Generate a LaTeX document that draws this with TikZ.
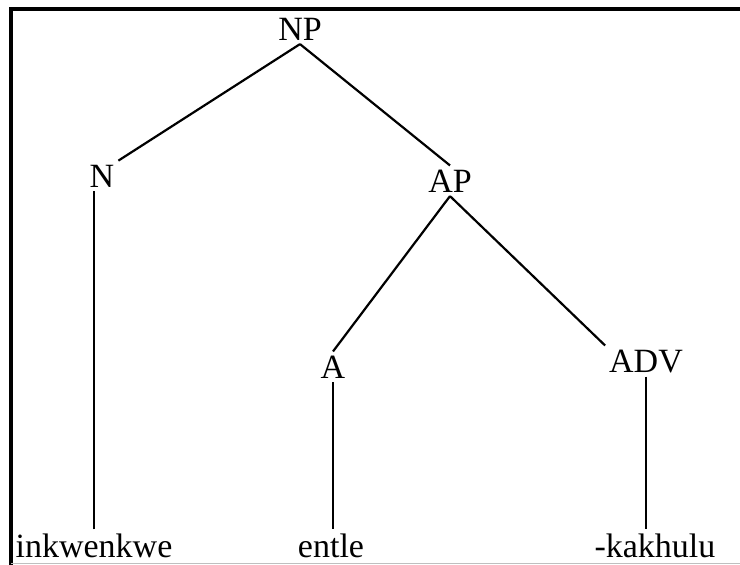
\documentclass[tikz,border=0pt]{standalone}
\usepackage{fontspec}
\setmainfont{Liberation Serif}
\usepackage{tikz}
\newcommand\treefont{\fontsize{34}{38}\selectfont}

\begin{document}
\begin{tikzpicture}[x=1pt,y=-1pt,line width=2.2pt,
                    cat/.style={font=\treefont,inner sep=3pt,anchor=base},
                    word/.style={font=\treefont,inner sep=3pt,anchor=base}]

  \useasboundingbox (0,0) rectangle (740,565);
  \draw[line width=3.2pt] (11,566) -- (11,9) -- (741,9);
  \draw[line width=1.2pt,black!25] (11,563.5) -- (741,563.5);

  \node[cat]  (NP)        at (300,40)  {NP};
  \node[cat]  (N)         at (102,187) {N};
  \node[cat]  (AP)        at (450,192) {AP};
  \node[cat]  (A)         at (333,378) {A};
  \node[cat]  (ADV)       at (646,372) {ADV};
  \node[word] (inkwenkwe) at (94,557)  {inkwenkwe};
  \node[word] (entle)     at (331,557) {entle};
  \node[word] (kakhulu)   at (655,557) {-kakhulu};

  \path (NP.south) edge (N.north east)
                   edge (AP.north)
        (AP.south) edge (A.north)
                   edge (ADV.north west)
        (inkwenkwe.north) edge (inkwenkwe.north |- N.south)
        (A.south)         edge (A.south |- entle.north)
        (ADV.south)       edge (ADV.south |- kakhulu.north);
\end{tikzpicture}
\end{document}
